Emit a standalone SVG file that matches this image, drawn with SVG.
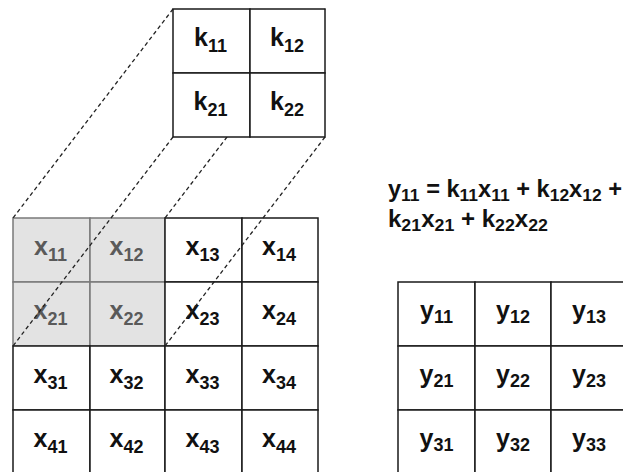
<svg xmlns="http://www.w3.org/2000/svg" width="623" height="472" viewBox="0 0 623 472">
  <style>
    .cell { fill: #ffffff; stroke: #1a1a1a; stroke-width: 1.5; }
    .shade { fill: #e3e3e3; stroke: #7a7a7a; stroke-width: 1.5; }
    .lbl { font-family: "Liberation Sans", Arial, sans-serif; font-weight: bold; font-size: 25px; fill: #111111; text-anchor: middle; }
    .lbl.dim { fill: #5a5a5a; }
    .sub { font-size: 18px; }
    .eq { font-family: "Liberation Sans", Arial, sans-serif; font-weight: bold; font-size: 23px; fill: #111111; }
    .eqsub { font-size: 17px; }
    .link { stroke: #222222; stroke-width: 1.3; stroke-dasharray: 4 3; fill: none; }
  </style>

  <!-- input matrix X (4x4), receptive field of the first window shaded -->
  <g id="input-x">
    <rect class="shade" x="13" y="218" width="77" height="64"/>
    <rect class="shade" x="90" y="218" width="75" height="64"/>
    <rect class="shade" x="13" y="282" width="77" height="64"/>
    <rect class="shade" x="90" y="282" width="75" height="64"/>

    <rect class="cell" x="165" y="218" width="77" height="64"/>
    <rect class="cell" x="242" y="218" width="76" height="64"/>
    <rect class="cell" x="165" y="282" width="77" height="64"/>
    <rect class="cell" x="242" y="282" width="76" height="64"/>
    <rect class="cell" x="13" y="346" width="77" height="64"/>
    <rect class="cell" x="90" y="346" width="75" height="64"/>
    <rect class="cell" x="165" y="346" width="77" height="64"/>
    <rect class="cell" x="242" y="346" width="76" height="64"/>
    <rect class="cell" x="13" y="410" width="77" height="64"/>
    <rect class="cell" x="90" y="410" width="75" height="64"/>
    <rect class="cell" x="165" y="410" width="77" height="64"/>
    <rect class="cell" x="242" y="410" width="76" height="64"/>

    <text class="lbl dim" x="50.5" y="255">x<tspan class="sub" dy="6">11</tspan></text>
    <text class="lbl dim" x="126.5" y="255">x<tspan class="sub" dy="6">12</tspan></text>
    <text class="lbl" x="202.5" y="255">x<tspan class="sub" dy="6">13</tspan></text>
    <text class="lbl" x="279" y="255">x<tspan class="sub" dy="6">14</tspan></text>
    <text class="lbl dim" x="50.5" y="319">x<tspan class="sub" dy="6">21</tspan></text>
    <text class="lbl dim" x="126.5" y="319">x<tspan class="sub" dy="6">22</tspan></text>
    <text class="lbl" x="202.5" y="319">x<tspan class="sub" dy="6">23</tspan></text>
    <text class="lbl" x="279" y="319">x<tspan class="sub" dy="6">24</tspan></text>
    <text class="lbl" x="50.5" y="383">x<tspan class="sub" dy="6">31</tspan></text>
    <text class="lbl" x="126.5" y="383">x<tspan class="sub" dy="6">32</tspan></text>
    <text class="lbl" x="202.5" y="383">x<tspan class="sub" dy="6">33</tspan></text>
    <text class="lbl" x="279" y="383">x<tspan class="sub" dy="6">34</tspan></text>
    <text class="lbl" x="50.5" y="447">x<tspan class="sub" dy="6">41</tspan></text>
    <text class="lbl" x="126.5" y="447">x<tspan class="sub" dy="6">42</tspan></text>
    <text class="lbl" x="202.5" y="447">x<tspan class="sub" dy="6">43</tspan></text>
    <text class="lbl" x="279" y="447">x<tspan class="sub" dy="6">44</tspan></text>
  </g>

  <!-- projection lines from the kernel corners to the shaded window -->
  <g id="connectors">
    <line class="link" x1="173" y1="9" x2="13" y2="218"/>
    <line class="link" x1="325" y1="9" x2="165" y2="218"/>
    <line class="link" x1="173" y1="137" x2="13" y2="346"/>
    <line class="link" x1="325" y1="137" x2="165" y2="346"/>
  </g>

  <!-- kernel K (2x2) -->
  <g id="kernel-k">
    <rect class="cell" x="173" y="9" width="77" height="64"/>
    <rect class="cell" x="250" y="9" width="75" height="64"/>
    <rect class="cell" x="173" y="73" width="77" height="64"/>
    <rect class="cell" x="250" y="73" width="75" height="64"/>
    <text class="lbl" x="210.5" y="46">k<tspan class="sub" dy="6">11</tspan></text>
    <text class="lbl" x="287" y="46">k<tspan class="sub" dy="6">12</tspan></text>
    <text class="lbl" x="210.5" y="110">k<tspan class="sub" dy="6">21</tspan></text>
    <text class="lbl" x="287" y="110">k<tspan class="sub" dy="6">22</tspan></text>
  </g>

  <!-- formula for the first output element -->
  <g id="equation">
    <text class="eq" x="388" y="197" textLength="234" lengthAdjust="spacingAndGlyphs">y<tspan class="eqsub" dy="4">11</tspan><tspan dy="-4"> = k</tspan><tspan class="eqsub" dy="4">11</tspan><tspan dy="-4">x</tspan><tspan class="eqsub" dy="4">11</tspan><tspan dy="-4"> + k</tspan><tspan class="eqsub" dy="4">12</tspan><tspan dy="-4">x</tspan><tspan class="eqsub" dy="4">12</tspan><tspan dy="-4"> +</tspan></text>
    <text class="eq" x="388" y="227" textLength="160" lengthAdjust="spacingAndGlyphs">k<tspan class="eqsub" dy="4">21</tspan><tspan dy="-4">x</tspan><tspan class="eqsub" dy="4">21</tspan><tspan dy="-4"> + k</tspan><tspan class="eqsub" dy="4">22</tspan><tspan dy="-4">x</tspan><tspan class="eqsub" dy="4">22</tspan></text>
  </g>

  <!-- output matrix Y (3x3) -->
  <g id="output-y">
    <rect class="cell" x="398" y="282" width="77" height="64"/>
    <rect class="cell" x="475" y="282" width="76" height="64"/>
    <rect class="cell" x="551" y="282" width="76" height="64"/>
    <rect class="cell" x="398" y="346" width="77" height="64"/>
    <rect class="cell" x="475" y="346" width="76" height="64"/>
    <rect class="cell" x="551" y="346" width="76" height="64"/>
    <rect class="cell" x="398" y="410" width="77" height="64"/>
    <rect class="cell" x="475" y="410" width="76" height="64"/>
    <rect class="cell" x="551" y="410" width="76" height="64"/>
    <text class="lbl" x="436.5" y="319">y<tspan class="sub" dy="4">11</tspan></text>
    <text class="lbl" x="513" y="319">y<tspan class="sub" dy="4">12</tspan></text>
    <text class="lbl" x="589" y="319">y<tspan class="sub" dy="4">13</tspan></text>
    <text class="lbl" x="436.5" y="383">y<tspan class="sub" dy="4">21</tspan></text>
    <text class="lbl" x="513" y="383">y<tspan class="sub" dy="4">22</tspan></text>
    <text class="lbl" x="589" y="383">y<tspan class="sub" dy="4">23</tspan></text>
    <text class="lbl" x="436.5" y="447">y<tspan class="sub" dy="4">31</tspan></text>
    <text class="lbl" x="513" y="447">y<tspan class="sub" dy="4">32</tspan></text>
    <text class="lbl" x="589" y="447">y<tspan class="sub" dy="4">33</tspan></text>
  </g>
</svg>
